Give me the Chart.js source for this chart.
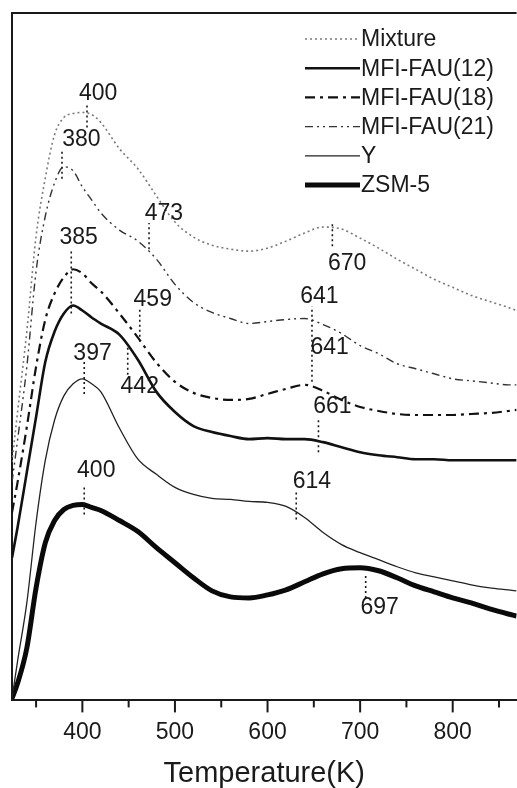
<!DOCTYPE html>
<html>
<head>
<meta charset="utf-8">
<script src="https://cdn.jsdelivr.net/npm/chart.js@4.4.1/dist/chart.umd.min.js"></script>
<style>
    body { margin: 0; background: #fff; }
    #wrap { width: 517px; height: 788px; position: relative; }
</style>
</head>
<body>
<div id="wrap"><canvas id="tpd-chart"></canvas></div>
<script>
// temperature grid (K) shared by all traces
const temps = [324, 330, 340, 350, 360, 370, 380, 390, 400, 410, 420, 440, 460, 480, 500, 520, 540, 560, 580, 600, 620, 640, 660, 680, 700, 720, 740, 760, 780, 800, 820, 840, 860, 869];

// NH3-TPD signal, arbitrary units (curves are offset in the figure)
const mixture = [237, 287, 367, 462, 520, 563, 580, 584, 585, 583, 575, 549, 529, 502, 476, 461, 453, 449, 447, 450, 457, 465, 471, 469, 460, 450, 439, 429, 419, 411, 403, 397, 391, 388];
const fau12 = [142, 172, 227, 282, 337, 367, 385, 393, 388, 381, 375, 364, 339, 307, 287, 273, 267, 263, 260, 261, 260, 260, 257, 252, 247, 244, 242, 240, 240, 239, 239, 239, 239, 239];
const fau18 = [187, 217, 272, 332, 379, 405, 421, 429, 425, 415, 407, 385, 361, 336, 317, 306, 301, 299, 300, 305, 310, 314, 308, 299, 292, 288, 285, 284, 284, 284, 285, 286, 288, 289];
const fau21 = [217, 259, 332, 427, 482, 515, 531, 527, 511, 498, 485, 468, 457, 439, 414, 396, 386, 380, 375, 377, 379, 380, 374, 365, 353, 345, 335, 330, 325, 320, 318, 316, 314, 314];
const zeoliteY = [2, 39, 97, 177, 239, 279, 303, 315, 320, 315, 307, 271, 240, 225, 212, 205, 201, 200, 198, 197, 193, 182, 167, 155, 147, 140, 133, 127, 123, 119, 115, 112, 110, 109];
const zsm5 = [2, 17, 52, 112, 157, 179, 190, 194, 195, 192, 189, 179, 168, 152, 137, 122, 109, 103, 102, 105, 110, 118, 126, 131, 132, 129, 122, 114, 108, 102, 97, 91, 86, 84];

// peak labels: text, dotted marker (temp, from/to signal) and text anchor
const peakMarks = [
    { text: '400', lineT: 405, from: 570, to: 594, textT: 417, textV: 604 },
    { text: '380', lineT: 378, from: 519, to: 547, textT: 399, textV: 558 },
    { text: '473', lineT: 472, from: 449, to: 475, textT: 488, textV: 484 },
    { text: '670', lineT: 670, from: 452, to: 474, textT: 686, textV: 435 },
    { text: '385', lineT: 388, from: 385, to: 449, textT: 396, textV: 460 },
    { text: '459', lineT: 462, from: 357, to: 390, textT: 476, textV: 399 },
    { text: '641', lineT: 648, from: 317, to: 392, textT: 656, textV: 402 },
    { text: '641', lineT: null, from: null, to: null, textT: 667, textV: 351 },
    { text: '397', lineT: 402, from: 305, to: 337, textT: 411, textV: 345 },
    { text: '442', lineT: 449, from: 324, to: 354, textT: 462, textV: 312 },
    { text: '661', lineT: 655, from: 247, to: 279, textT: 670, textV: 292 },
    { text: '400', lineT: 402, from: 185, to: 214, textT: 415, textV: 229 },
    { text: '614', lineT: 631, from: 180, to: 207, textT: 648, textV: 218 },
    { text: '697', lineT: 706, from: 102, to: 124, textT: 721, textV: 92 }
];

const FONT = "'Liberation Sans', Arial, sans-serif";
const INK = '#1a1a1a';

function toPoints(values) {
    return temps.map((t, i) => ({ x: t, y: values[i] }));
}

function series(label, values, color, width, dash) {
    return {
        label: label,
        data: toPoints(values),
        borderColor: color,
        borderWidth: width,
        borderDash: dash,
        pointRadius: 0,
        fill: false,
        tension: 0.4,
        cubicInterpolationMode: 'monotone'
    };
}

// frame, tick marks, legend and peak labels
const decorations = {
    id: 'decorations',
    afterDatasetsDraw(chart) {
        const { ctx, chartArea, scales } = chart;
        const x = scales.x;
        const y = scales.y;
        ctx.save();

        // top border of the frame
        ctx.strokeStyle = INK;
        ctx.lineWidth = 2;
        ctx.beginPath();
        ctx.moveTo(chartArea.left - 1, chartArea.top);
        ctx.lineTo(chartArea.right, chartArea.top);
        ctx.stroke();

        // outward tick marks on the temperature axis
        x.ticks.forEach(tick => {
            const px = x.getPixelForValue(tick.value);
            const len = tick.value % 100 === 0 ? 12 : 7;
            ctx.beginPath();
            ctx.moveTo(px, chartArea.bottom);
            ctx.lineTo(px, chartArea.bottom + len);
            ctx.stroke();
        });

        // peak markers
        ctx.setLineDash([2, 3]);
        ctx.lineWidth = 1.6;
        peakMarks.forEach(m => {
            if (m.lineT === null) return;
            const px = x.getPixelForValue(m.lineT);
            ctx.beginPath();
            ctx.moveTo(px, y.getPixelForValue(m.from));
            ctx.lineTo(px, y.getPixelForValue(m.to));
            ctx.stroke();
        });
        ctx.setLineDash([]);
        ctx.fillStyle = INK;
        ctx.font = '23px ' + FONT;
        ctx.textAlign = 'center';
        ctx.textBaseline = 'middle';
        peakMarks.forEach(m => {
            ctx.fillText(m.text, x.getPixelForValue(m.textT), y.getPixelForValue(m.textV));
        });

        // legend
        ctx.textAlign = 'left';
        ctx.font = '23px ' + FONT;
        chart.data.datasets.forEach((ds, i) => {
            const ly = 39 + i * 29.2;
            ctx.strokeStyle = ds.borderColor;
            ctx.lineWidth = ds.borderWidth;
            ctx.setLineDash(ds.borderDash);
            ctx.beginPath();
            ctx.moveTo(305, ly);
            ctx.lineTo(360, ly);
            ctx.stroke();
            ctx.setLineDash([]);
            ctx.fillText(ds.label, 361, ly + 1);
        });

        ctx.restore();
    }
};

document.addEventListener('DOMContentLoaded', () => {
    const ctx = document.getElementById('tpd-chart');
    new Chart(ctx, {
        type: 'line',
        data: {
            datasets: [
                series('Mixture', mixture, '#7a7a7a', 1.6, [2, 3]),
                series('MFI-FAU(12)', fau12, '#111', 2.6, []),
                series('MFI-FAU(18)', fau18, '#111', 2.2, [10, 5, 3, 5]),
                series('MFI-FAU(21)', fau21, '#333', 1.4, [8, 4, 2, 4, 2, 4]),
                series('Y', zeoliteY, '#222', 1.3, []),
                series('ZSM-5', zsm5, '#0a0a0a', 5, [])
            ]
        },
        options: {
            responsive: true,
            maintainAspectRatio: false,
            animation: false,
            layout: {
                padding: { left: 12, top: 13, right: 0, bottom: 0 }
            },
            plugins: {
                legend: { display: false },
                tooltip: { enabled: false }
            },
            scales: {
                x: {
                    type: 'linear',
                    min: 324,
                    max: 869,
                    grid: { display: false, drawTicks: false },
                    border: { display: true, color: INK, width: 2 },
                    ticks: {
                        stepSize: 50,
                        includeBounds: false,
                        autoSkip: false,
                        maxRotation: 0,
                        padding: 18,
                        color: INK,
                        font: { family: FONT, size: 23 },
                        callback: value => (value % 100 === 0 ? String(value) : '')
                    },
                    title: {
                        display: true,
                        text: 'Temperature(K)',
                        color: INK,
                        font: { family: FONT, size: 29, lineHeight: 1.0 },
                        padding: { top: -5, bottom: 0 }
                    }
                },
                y: {
                    min: 0,
                    max: 684,
                    grid: { display: false, drawTicks: false },
                    border: { display: true, color: INK, width: 2 },
                    ticks: { display: false }
                }
            }
        },
        plugins: [decorations]
    });
});
</script>
</body>
</html>
